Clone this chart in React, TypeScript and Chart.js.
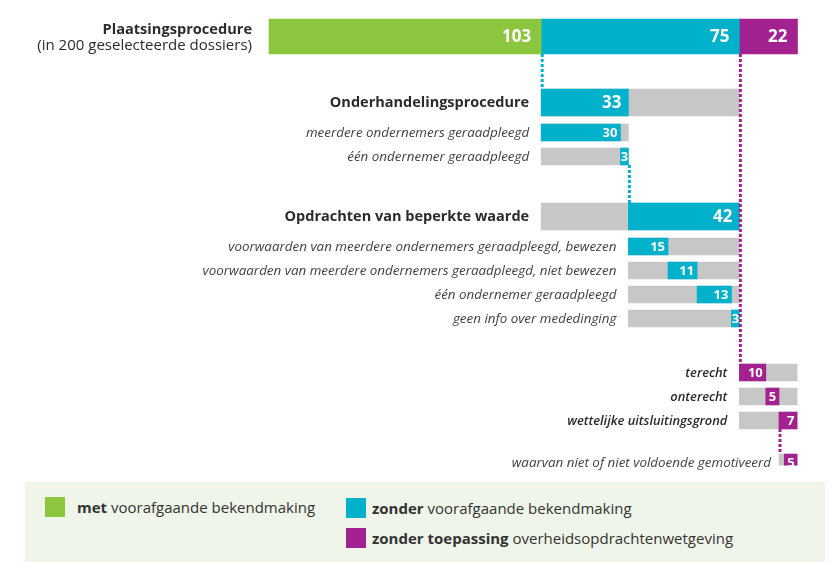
import React, { useEffect, useRef } from 'react';
import { Chart, registerables } from 'chart.js';

Chart.register(...registerables);

// ---------- DATA ----------
const TOTAL = 200;
const mainTitle = 'Plaatsingsprocedure';
const mainSubtitle = '(in 200 geselecteerde dossiers)';
const mainValues = [103, 75, 22]; // met / zonder / zonder toepassing

const blueHeaderLabels = ['Onderhandelingsprocedure', 'Opdrachten van beperkte waarde'];
const blueHeaderValues = [33, 42];

const onderLabels = ['meerdere ondernemers geraadpleegd', 'één ondernemer geraadpleegd'];
const onderValues = [30, 3];

const beperkteLabels = [
  'voorwaarden van meerdere ondernemers geraadpleegd, bewezen',
  'voorwaarden van meerdere ondernemers geraadpleegd, niet bewezen',
  'één ondernemer geraadpleegd',
  'geen info over mededinging',
];
const beperkteValues = [15, 11, 13, 3];

const purpleLabels = ['terecht', 'onterecht', 'wettelijke uitsluitingsgrond'];
const purpleValues = [10, 5, 7];

const waarvanLabel = 'waarvan niet of niet voldoende gemotiveerd';
const waarvanValue = 5;

const legendItems = [
  { bold: 'met', rest: ' voorafgaande bekendmaking' },
  { bold: 'zonder', rest: ' voorafgaande bekendmaking' },
  { bold: 'zonder toepassing', rest: ' overheidsopdrachtenwetgeving' },
];

// ---------- STYLE / LAYOUT ----------
const GREEN = '#8CC63F';
const BLUE = '#00B1CB';
const PURPLE = '#A3228F';
const GRAY = '#C7C7C7';
const FONT = '"Open Sans", Lato, sans-serif';
const SEGMENT_COLORS = [GREEN, BLUE, PURPLE];
// vertical slot (quarter-row units) for each of the 13 rows, in order
const ROW_SLOTS = [0, 11, 16, 20, 30, 35, 39, 43, 47, 56, 60, 64, 71];
const N_SLOTS = 72;
const THICK = { main: 35, header: 27, sub: 17 };

type Kind = 'main' | 'header' | 'sub' | 'strong';
interface Row { label: string; kind: Kind; color: string; frame: [number, number] | null; seg: [number, number]; }

function cumulative(values: number[], start: number): [number, number][] {
  const out: [number, number][] = [];
  let s = start;
  for (const v of values) { out.push([s, s + v]); s += v; }
  return out;
}

function buildRows(): { rows: Row[]; mainSegs: [number, number][] } {
  const mainSegs = cumulative(mainValues, 0);
  const headerSegs = cumulative(blueHeaderValues, mainSegs[1][0]);
  const onderSegs = cumulative(onderValues, headerSegs[0][0]);
  const beperkteSegs = cumulative(beperkteValues, headerSegs[1][0]);
  const purpleSegs = cumulative(purpleValues, mainSegs[2][0]);
  const wett = purpleSegs[2];
  const rows: Row[] = [];
  rows.push({ label: mainTitle, kind: 'main', color: GREEN, frame: null, seg: mainSegs[0] });
  rows.push({ label: blueHeaderLabels[0], kind: 'header', color: BLUE, frame: mainSegs[1], seg: headerSegs[0] });
  onderLabels.forEach((l, i) => rows.push({ label: l, kind: 'sub', color: BLUE, frame: headerSegs[0], seg: onderSegs[i] }));
  rows.push({ label: blueHeaderLabels[1], kind: 'header', color: BLUE, frame: mainSegs[1], seg: headerSegs[1] });
  beperkteLabels.forEach((l, i) => rows.push({ label: l, kind: 'sub', color: BLUE, frame: headerSegs[1], seg: beperkteSegs[i] }));
  purpleLabels.forEach((l, i) => rows.push({ label: l, kind: 'strong', color: PURPLE, frame: mainSegs[2], seg: purpleSegs[i] }));
  rows.push({ label: waarvanLabel, kind: 'sub', color: PURPLE, frame: wett, seg: [wett[1] - waarvanValue, wett[1]] });
  return { rows, mainSegs };
}

export default function App() {
  const ref = useRef<HTMLCanvasElement>(null);

  useEffect(() => {
    const { rows, mainSegs } = buildRows();
    const categories: string[] = new Array(N_SLOTS).fill('');
    rows.forEach((r, i) => { categories[ROW_SLOTS[i]] = r.label; });

    const empty = () => new Array(N_SLOTS).fill(null) as any[];
    const frameHeader = empty(), frameSub = empty(), hlHeader = empty(), hlSub = empty();
    const hlSubColors: string[] = new Array(N_SLOTS).fill(BLUE);
    rows.forEach((r, i) => {
      const s = ROW_SLOTS[i];
      if (r.kind === 'header') { frameHeader[s] = r.frame; hlHeader[s] = r.seg; }
      else if (r.kind === 'sub' || r.kind === 'strong') { frameSub[s] = r.frame; hlSub[s] = r.seg; hlSubColors[s] = r.color; }
    });
    const mainDatasets = mainSegs.map((seg, i) => {
      const d = empty(); d[ROW_SLOTS[0]] = seg;
      return { data: d, backgroundColor: SEGMENT_COLORS[i], barThickness: THICK.main, clip: false as any, borderWidth: 0, order: 0 };
    });

    const overlay = {
      id: 'overlay',
      afterDatasetsDraw(chart: any) {
        const ctx = chart.ctx as CanvasRenderingContext2D;
        const xs = chart.scales.x, ys = chart.scales.y;
        const px = (v: number) => xs.getPixelForValue(v);
        const rowY = (i: number) => ys.getPixelForValue(ROW_SLOTS[i]);
        const half = (i: number) => (rows[i].kind === 'main' ? THICK.main : rows[i].kind === 'header' ? THICK.header : THICK.sub) / 2;
        const bottom = (i: number) => rowY(i) + half(i);
        const top = (i: number) => rowY(i) - half(i);

        // dotted connectors
        const dotted = (x: number, y1: number, y2: number, color: string) => {
          ctx.save();
          ctx.strokeStyle = color; ctx.lineWidth = 3; ctx.setLineDash([3, 2]);
          ctx.beginPath(); ctx.moveTo(x + 1, y1); ctx.lineTo(x + 1, y2); ctx.stroke();
          ctx.restore();
        };
        dotted(px(mainSegs[1][0]), bottom(0), top(1), BLUE);
        dotted(px(rows[4].seg[0]), bottom(3), top(4), BLUE);
        dotted(px(mainSegs[2][0]), bottom(0), top(9), PURPLE);
        dotted(px(rows[11].seg[0]), bottom(11), top(12), PURPLE);

        // row labels
        ctx.save();
        ctx.textAlign = 'right';
        rows.forEach((r, i) => {
          const y = rowY(i);
          if (r.kind === 'main') {
            const x = px(0) - 17;
            ctx.fillStyle = '#2b2b2b';
            ctx.textBaseline = 'alphabetic';
            ctx.font = `bold 14.6px ${FONT}`;
            ctx.fillText(r.label, x, y - 3);
            ctx.font = `15px ${FONT}`;
            ctx.fillText(mainSubtitle, x, y + 13.5);
            return;
          }
          const x = px((r.frame as [number, number])[0]) - (i === 12 ? 8 : 12);
          ctx.textBaseline = 'middle';
          if (r.kind === 'header') { ctx.font = `bold 14.5px ${FONT}`; ctx.fillStyle = '#2b2b2b'; }
          else if (r.kind === 'strong') { ctx.font = `italic 600 12.9px ${FONT}`; ctx.fillStyle = '#2b2b2b'; }
          else { ctx.font = `italic 13.4px ${FONT}`; ctx.fillStyle = '#3f3f3f'; }
          ctx.fillText(r.label, x, y + 0.5);
        });

        // value labels
        const valueText = (seg: [number, number], y: number, size: number, pad: number) => {
          const t = String(seg[1] - seg[0]);
          ctx.font = `bold ${size}px ${FONT}`;
          ctx.fillStyle = '#ffffff';
          ctx.textBaseline = 'middle';
          const x0 = px(seg[0]), x1 = px(seg[1]);
          const w = ctx.measureText(t).width;
          if (w + 2 * pad > x1 - x0) { ctx.textAlign = 'center'; ctx.fillText(t, (x0 + x1) / 2, y + 0.5); }
          else { ctx.textAlign = 'right'; ctx.fillText(t, x1 - pad, y + 0.5); }
        };
        mainSegs.forEach(seg => valueText(seg, rowY(0), 17, 10));
        rows.forEach((r, i) => {
          if (r.kind === 'main') return;
          if (r.kind === 'header') valueText(r.seg, rowY(i), 17, 7);
          else valueText(r.seg, rowY(i), 13, 3);
        });
        ctx.restore();
      },
    };

    const chart = new Chart(ref.current as HTMLCanvasElement, {
      type: 'bar',
      data: {
        labels: categories,
        datasets: [
          ...mainDatasets,
          { data: hlHeader, backgroundColor: BLUE, barThickness: THICK.header, borderWidth: 0, order: 0 } as any,
          { data: hlSub, backgroundColor: hlSubColors, barThickness: THICK.sub, borderWidth: 0, order: 0 } as any,
          { data: frameHeader, backgroundColor: GRAY, barThickness: THICK.header, borderWidth: 0, order: 1 } as any,
          { data: frameSub, backgroundColor: GRAY, barThickness: THICK.sub, borderWidth: 0, order: 1 } as any,
        ],
      },
      options: {
        animation: false,
        responsive: false,
        maintainAspectRatio: false,
        indexAxis: 'y',
        layout: { padding: { left: 269, right: 39.5, top: 33.5, bottom: 96.5 } },
        datasets: { bar: { grouped: false, borderSkipped: false } } as any,
        scales: {
          x: { type: 'linear', min: 0, max: TOTAL, display: false },
          y: { type: 'category', display: false, offset: true },
        },
        plugins: { legend: { display: false }, tooltip: { enabled: false } },
      },
      plugins: [overlay],
    });
    return () => chart.destroy();
  }, []);

  const sq = (left: number, top: number, color: string): React.CSSProperties => ({
    position: 'absolute', left, top, width: 20, height: 20, background: color,
  });
  const txt = (left: number, top: number): React.CSSProperties => ({
    position: 'absolute', left, top, height: 20, lineHeight: '20px', fontSize: 15, fontFamily: FONT, color: '#333', whiteSpace: 'nowrap',
  });

  return (
    <div style={{ position: 'absolute', left: 0, top: 0, width: 837, height: 562, background: '#fff', overflow: 'hidden' }}>
      <canvas ref={ref} width={837} height={562} style={{ position: 'absolute', left: 0, top: 0, width: 837, height: 562 }} />
      <div style={{ position: 'absolute', left: 25, top: 482, width: 800, height: 80, background: '#F0F5E9' }}>
        <div style={sq(20, 15, GREEN)} />
        <div style={txt(52, 15)}><b>{legendItems[0].bold}</b>{legendItems[0].rest}</div>
        <div style={sq(321, 16, BLUE)} />
        <div style={txt(347, 16)}><b>{legendItems[1].bold}</b>{legendItems[1].rest}</div>
        <div style={sq(321, 46, PURPLE)} />
        <div style={txt(347, 46)}><b>{legendItems[2].bold}</b>{legendItems[2].rest}</div>
      </div>
    </div>
  );
}
